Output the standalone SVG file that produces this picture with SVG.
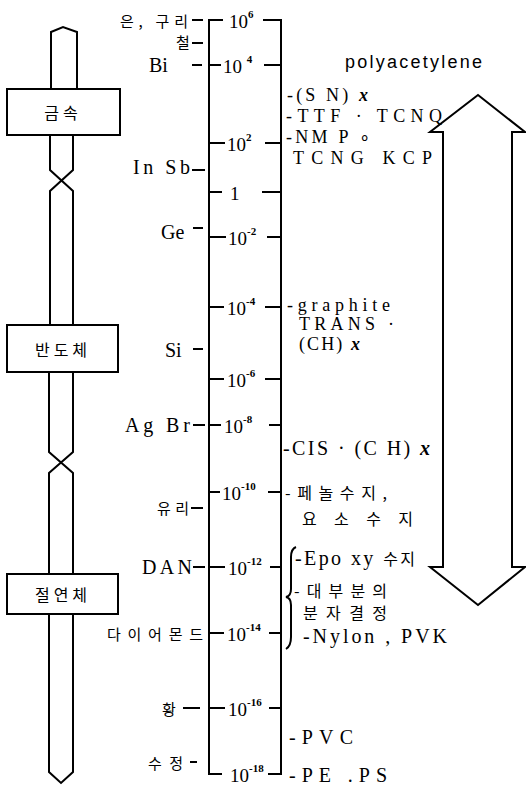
<svg xmlns="http://www.w3.org/2000/svg" width="526" height="785" viewBox="0 0 526 785">
<style>
  .ln { stroke: #000; stroke-width: 2; fill: none; }
  .box { stroke: #000; stroke-width: 2; fill: #fff; }
  .lat { font-family: "Liberation Serif", "Times New Roman", serif; font-size: 20px; fill: #000; dominant-baseline: central; }
  .latS { font-family: "Liberation Serif", "Times New Roman", serif; font-size: 18px; fill: #000; dominant-baseline: central; }
  .sans { font-family: "Liberation Sans", Arial, sans-serif; font-size: 18px; fill: #000; dominant-baseline: central; }
  .kr { font-family: "Noto Sans CJK KR", sans-serif; font-size: 15px; fill: #000; dominant-baseline: central; }
  .krb { font-family: "Noto Sans CJK KR", sans-serif; font-size: 16px; fill: #000; dominant-baseline: central; }
  .num { font-family: "Liberation Serif", "Times New Roman", serif; font-size: 19px; fill: #000; dominant-baseline: central; }
  .sup { font-size: 11px; font-weight: bold; }
  .ix { font-style: italic; font-weight: bold; }
</style>

<!-- left category bar -->
<g id="bar">
  <path class="ln" d="M51 89 L51 32 L63 27 L77 32 L77 89"/>
  <path class="ln" d="M50 135 L50 170 L73 191 L73 325 M73 135 L73 170 L50 191 L50 325"/>
  <path class="ln" d="M49 372 L49 452 L73 473 L73 574 M73 372 L73 452 L49 473 L49 574"/>
  <path class="ln" d="M49 614 L49 772 L61 783 L73 772 L73 614"/>
</g>
<g id="metal">
  <rect class="box" x="7" y="89" width="113" height="46"/>
  <text class="krb" x="63" y="112" text-anchor="middle" letter-spacing="4">금속</text>
</g>
<g id="semiconductor">
  <rect class="box" x="7" y="325" width="111" height="47"/>
  <text class="krb" x="63" y="349" text-anchor="middle" letter-spacing="4">반도체</text>
</g>
<g id="insulator">
  <rect class="box" x="7" y="574" width="111" height="40"/>
  <text class="krb" x="63" y="594" text-anchor="middle" letter-spacing="4">절연체</text>
</g>

<!-- scale -->
<g id="scale">
  <path class="ln" d="M223 20 L209 20 L209 774 L222 774"/>
  <path class="ln" d="M263 20 L281 20 L281 774 L268 774"/>
  <path class="ln" d="M209 65 L221 65 M264 65 L281 65
    M209 143 L225 143 M265 143 L281 143
    M209 192 L222 192 M262 192 L281 192
    M209 237 L226 237 M267 237 L281 237
    M209 307 L224 307 M265 307 L281 307
    M209 379 L224 379 M265 379 L281 379
    M209 425 L221 425 M269 425 L281 425
    M209 492 L220 492 M268 492 L281 492
    M209 567 L225 567 M270 567 L281 567
    M209 633 L224 633 M269 633 L281 633
    M209 708 L225 708 M269 708 L281 708"/>
  <text class="num" x="229" y="21">10<tspan class="sup" dy="-7">6</tspan></text>
  <text class="num" x="223" y="66">10 <tspan class="sup" dy="-7">4</tspan></text>
  <text class="num" x="227" y="144">10<tspan class="sup" dy="-7">2</tspan></text>
  <text class="num" x="230" y="193">1</text>
  <text class="num" x="228" y="238">10<tspan class="sup" dy="-7">-2</tspan></text>
  <text class="num" x="227" y="308">10<tspan class="sup" dy="-7">-4</tspan></text>
  <text class="num" x="227" y="380">10<tspan class="sup" dy="-7">-6</tspan></text>
  <text class="num" x="224" y="426">10<tspan class="sup" dy="-7">-8</tspan></text>
  <text class="num" x="222" y="493">10<tspan class="sup" dy="-7">-10</tspan></text>
  <text class="num" x="228" y="568">10<tspan class="sup" dy="-7">-12</tspan></text>
  <text class="num" x="227" y="634">10<tspan class="sup" dy="-7">-14</tspan></text>
  <text class="num" x="228" y="709">10<tspan class="sup" dy="-7">-16</tspan></text>
  <text class="num" x="230" y="775">10<tspan class="sup" dy="-7">-18</tspan></text>
</g>

<!-- left material labels -->
<g id="left-labels">
  <path class="ln" d="M192 20 L203 20 M192 43 L203 43 M192 65 L202 65 M192 170 L205 170 M193 228 L203 228 M193 349 L203 349 M193 425 L205 425 M191 508 L203 508 M193 567 L205 567 M183 708 L200 708 M190 762 L197 762"/>
  <text class="kr" x="120" y="20" textLength="68" lengthAdjust="spacing">은, 구리</text>
  <text class="kr" x="176" y="41">철</text>
  <text class="lat" x="149" y="65">Bi</text>
  <text class="lat" x="133" y="167" textLength="57" lengthAdjust="spacing">In Sb</text>
  <text class="lat" x="161" y="232">Ge</text>
  <text class="lat" x="165" y="350">Si</text>
  <text class="lat" x="125" y="425" textLength="65" lengthAdjust="spacing">Ag Br</text>
  <text class="kr" x="157" y="507" textLength="32" lengthAdjust="spacing">유리</text>
  <text class="lat" x="142" y="567" textLength="50" lengthAdjust="spacing">DAN</text>
  <text class="kr" x="107" y="633" textLength="96" lengthAdjust="spacing">다이어몬드</text>
  <text class="kr" x="162" y="708">황</text>
  <text class="kr" x="148" y="762" textLength="35" lengthAdjust="spacing">수정</text>
</g>

<!-- right material labels -->
<g id="right-labels">
  <text class="sans" x="345" y="62" textLength="137" lengthAdjust="spacing">polyacetylene</text>
  <text class="latS" x="287" y="95" textLength="81" lengthAdjust="spacing">-(S N) <tspan class="ix">x</tspan></text>
  <text class="latS" x="286" y="116" textLength="156" lengthAdjust="spacing">-TTF · TCNQ</text>
  <text class="latS" x="286" y="137" textLength="84" lengthAdjust="spacing">-NM P ∘</text>
  <text class="latS" x="293" y="158" textLength="139" lengthAdjust="spacing">TCNG  KCP</text>
  <text class="latS" x="287" y="305" textLength="103" lengthAdjust="spacing">-graphite</text>
  <text class="latS" x="299" y="324" textLength="95" lengthAdjust="spacing">TRANS ·</text>
  <text class="latS" x="299" y="344" textLength="61" lengthAdjust="spacing">(CH) <tspan class="ix">x</tspan></text>
  <text class="lat" x="283" y="448" textLength="147" lengthAdjust="spacing">-CIS  · (C H) <tspan class="ix">x</tspan></text>
  <text class="krb" x="285" y="492" textLength="102" lengthAdjust="spacing">-페놀수지,</text>
  <text class="krb" x="302" y="518" textLength="111" lengthAdjust="spacing">요소수지</text>
  <text class="lat" x="295" y="558" textLength="120" lengthAdjust="spacing">-Epo xy <tspan class="krb">수지</tspan></text>
  <path class="ln" stroke-width="1.5" d="M296 547 Q291 549 291 557 L291 589 Q291 596 286 597 Q291 598 291 605 L291 637 Q291 646 286 649"/>
  <text class="krb" x="294" y="590" textLength="93" lengthAdjust="spacing">-대부분의</text>
  <text class="krb" x="303" y="612" textLength="84" lengthAdjust="spacing">분자결정</text>
  <text class="lat" x="303" y="636" textLength="144" lengthAdjust="spacing">-Nylon , PVK</text>
  <text class="lat" x="289" y="737" textLength="64" lengthAdjust="spacing">-PVC</text>
  <text class="lat" x="289" y="775" textLength="98" lengthAdjust="spacing">-PE .PS</text>
</g>

<!-- double arrow -->
<g id="connectors">
  <polygon class="ln" points="478,95 525,132 512,132 512,567 525,567 478,605 430,567 443,567 443,132 430,132"/>
</g>
</svg>
